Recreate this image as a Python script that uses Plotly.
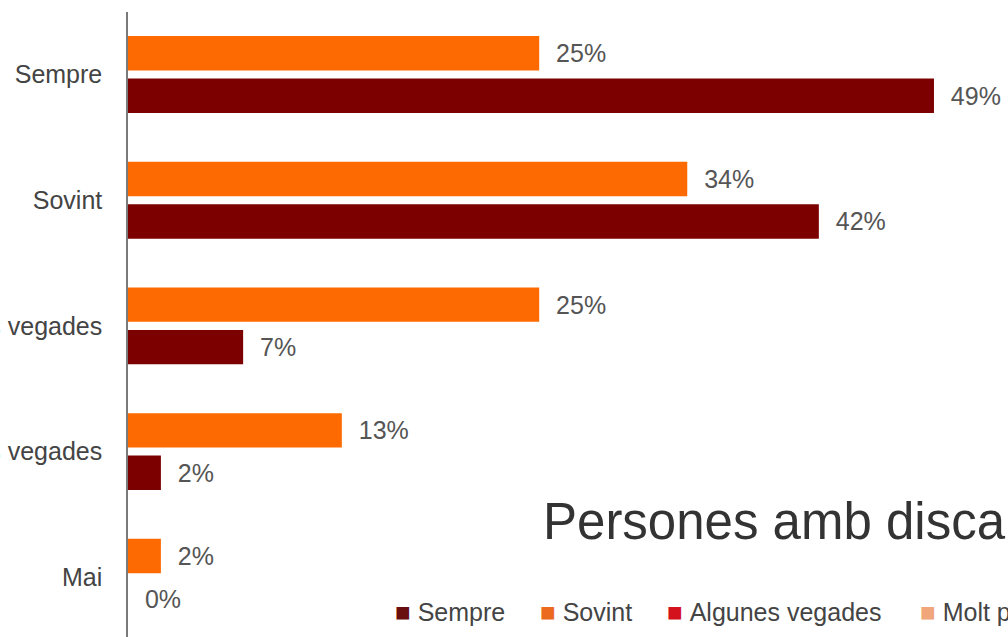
import plotly.graph_objects as go

# ---- data ----
categories = ["Sempre", "Sovint", "Algunes vegades", "Molt poques vegades", "Mai"]
series_a_name = "Persones sense discapacitat"
series_a_values = [25, 34, 25, 13, 2]
series_b_name = "Persones amb discapacitat"
series_b_values = [49, 42, 7, 2, 0]
legend_labels = ["Sempre", "Sovint", "Algunes vegades", "Molt poques vegades", "Mai"]
title_text = "Persones amb discapacitat"

# ---- styles ----
W, H = 1008, 637
ML, MR, MT, MB = 128, 0, 12, 0
PW, PH = W - ML - MR, H - MT - MB
FONT = "Liberation Sans, Arial, Helvetica, sans-serif"
orange = "#fd6a02"
darkred = "#7d0000"
legend_colors = ["#6a0f0f", "#ec6a1e", "#d3121e", "#f0a57a", "#b0b0b0"]


def px_x(px):
    return (px - ML) / PW


def px_y(py):
    return (H - MB - py) / PH


fig = go.Figure()
fig.add_trace(go.Bar(
    y=categories, x=series_a_values, name=series_a_name, orientation="h",
    marker=dict(color=orange, line=dict(width=0)),
    texttemplate="\u00a0\u00a0%{x}%", textposition="outside",
    textfont=dict(size=25, color="#555555", family=FONT),
    cliponaxis=False, constraintext="none", showlegend=False,
))
fig.add_trace(go.Bar(
    y=categories, x=series_b_values, name=series_b_name, orientation="h",
    marker=dict(color=darkred, line=dict(width=0)),
    texttemplate="\u00a0\u00a0%{x}%", textposition="outside",
    textfont=dict(size=25, color="#555555", family=FONT),
    cliponaxis=False, constraintext="none", showlegend=False,
))

annotations = []
# Title (partially outside the visible page, as in the reference)
annotations.append(dict(
    text=title_text, xref="paper", yref="paper",
    x=px_x(541), y=px_y(521), xanchor="left", yanchor="middle",
    showarrow=False, font=dict(size=51, color="#333333", family=FONT),
))
# Legend drawn as text items
legend_px = [393, 538, 665, 918, 1180]
for lab, col, lx in zip(legend_labels, legend_colors, legend_px):
    annotations.append(dict(
        text=f"<span style='color:{col};font-size:26px'>\u25A0</span>\u00a0{lab}",
        xref="paper", yref="paper", x=px_x(lx), y=px_y(612),
        xanchor="left", yanchor="middle", showarrow=False,
        font=dict(size=25, color="#444444", family=FONT),
    ))

fig.update_layout(
    template="none",
    width=W, height=H,
    margin=dict(l=ML, r=MR, t=MT, b=MB, pad=0),
    paper_bgcolor="white", plot_bgcolor="white",
    barmode="group", bargap=0.324, bargroupgap=0.19,
    font=dict(family=FONT, color="#444444"),
    annotations=annotations,
    showlegend=False,
)
fig.update_xaxes(range=[0, 53.5], visible=False, automargin=False,
                 showgrid=False, zeroline=False)
fig.update_yaxes(
    type="category", categoryorder="array", categoryarray=categories,
    range=[4.475, -0.497], automargin=False,
    showline=True, linecolor="#7a7a7a", linewidth=1.5,
    showgrid=False, zeroline=False, ticks="", ticklabelstandoff=19,
    tickfont=dict(size=25, color="#444444", family=FONT),
)

fig.write_html(
    "out.html",
    config={"displayModeBar": False},
    post_script="document.body.style.margin='0px';document.body.style.overflow='hidden';",
)
